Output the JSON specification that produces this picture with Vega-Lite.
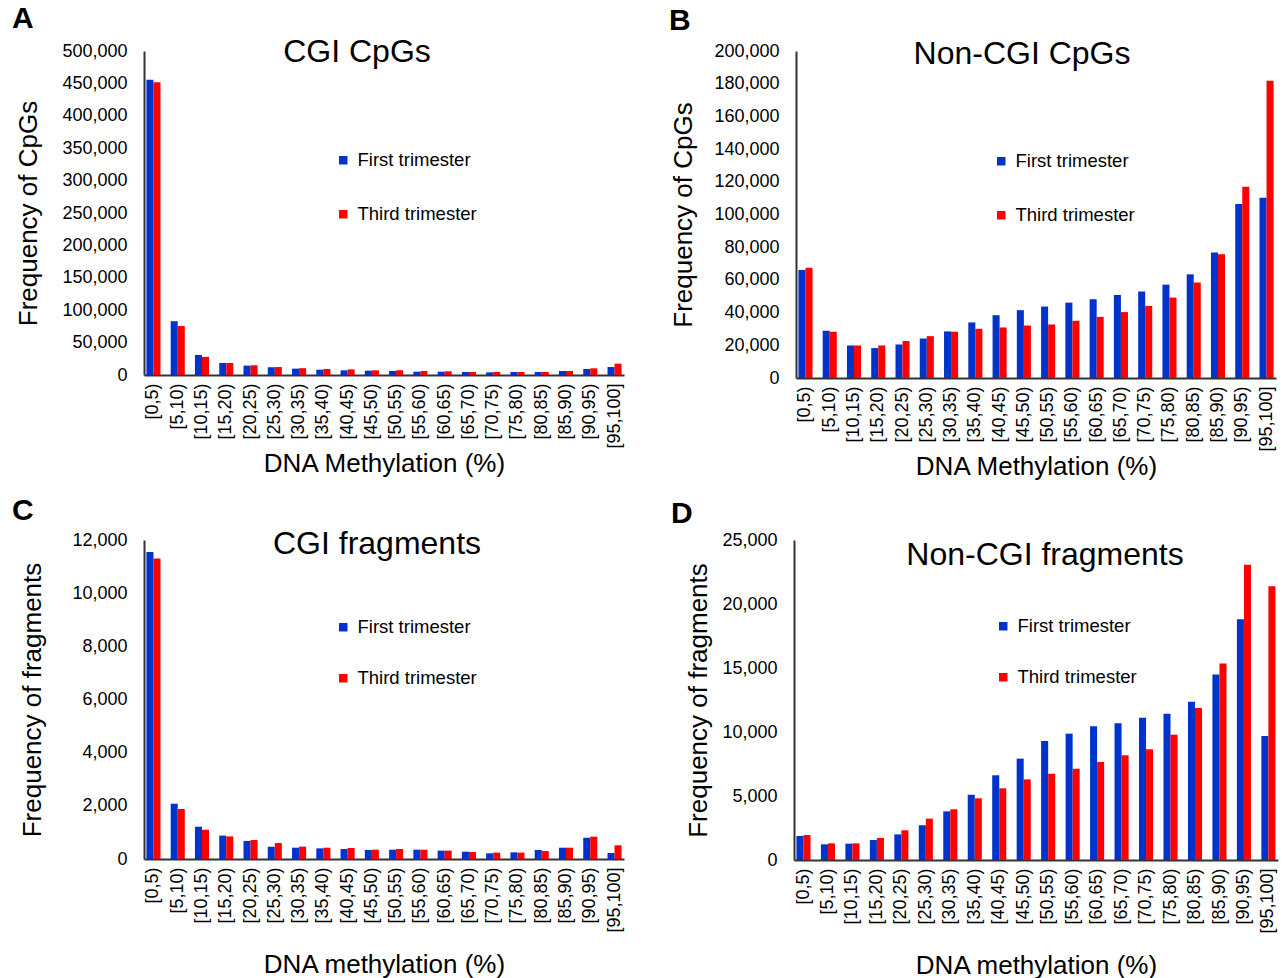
{
  "$schema": "https://vega.github.io/schema/vega-lite/v6.json",
  "background": "white",
  "padding": {"left": 11, "top": 4, "right": 5, "bottom": 0},
  "datasets": {
    "cgiCpG": [
      {"bin": "[0,5)", "trimester": "First trimester", "value": 455500},
      {"bin": "[0,5)", "trimester": "Third trimester", "value": 451600},
      {"bin": "[5,10)", "trimester": "First trimester", "value": 83000},
      {"bin": "[5,10)", "trimester": "Third trimester", "value": 75600},
      {"bin": "[10,15)", "trimester": "First trimester", "value": 31000},
      {"bin": "[10,15)", "trimester": "Third trimester", "value": 28000},
      {"bin": "[15,20)", "trimester": "First trimester", "value": 18500},
      {"bin": "[15,20)", "trimester": "Third trimester", "value": 18500},
      {"bin": "[20,25)", "trimester": "First trimester", "value": 14500},
      {"bin": "[20,25)", "trimester": "Third trimester", "value": 15000},
      {"bin": "[25,30)", "trimester": "First trimester", "value": 12000},
      {"bin": "[25,30)", "trimester": "Third trimester", "value": 12300},
      {"bin": "[30,35)", "trimester": "First trimester", "value": 9800},
      {"bin": "[30,35)", "trimester": "Third trimester", "value": 10500},
      {"bin": "[35,40)", "trimester": "First trimester", "value": 8200},
      {"bin": "[35,40)", "trimester": "Third trimester", "value": 9300},
      {"bin": "[40,45)", "trimester": "First trimester", "value": 7200},
      {"bin": "[40,45)", "trimester": "Third trimester", "value": 8700},
      {"bin": "[45,50)", "trimester": "First trimester", "value": 6700},
      {"bin": "[45,50)", "trimester": "Third trimester", "value": 7200},
      {"bin": "[50,55)", "trimester": "First trimester", "value": 6200},
      {"bin": "[50,55)", "trimester": "Third trimester", "value": 7200},
      {"bin": "[55,60)", "trimester": "First trimester", "value": 5100},
      {"bin": "[55,60)", "trimester": "Third trimester", "value": 6200},
      {"bin": "[60,65)", "trimester": "First trimester", "value": 5100},
      {"bin": "[60,65)", "trimester": "Third trimester", "value": 5700},
      {"bin": "[65,70)", "trimester": "First trimester", "value": 4600},
      {"bin": "[65,70)", "trimester": "Third trimester", "value": 4600},
      {"bin": "[70,75)", "trimester": "First trimester", "value": 4100},
      {"bin": "[70,75)", "trimester": "Third trimester", "value": 4600},
      {"bin": "[75,80)", "trimester": "First trimester", "value": 4600},
      {"bin": "[75,80)", "trimester": "Third trimester", "value": 4600},
      {"bin": "[80,85)", "trimester": "First trimester", "value": 4600},
      {"bin": "[80,85)", "trimester": "Third trimester", "value": 4600},
      {"bin": "[85,90)", "trimester": "First trimester", "value": 6200},
      {"bin": "[85,90)", "trimester": "Third trimester", "value": 6200},
      {"bin": "[90,95)", "trimester": "First trimester", "value": 9300},
      {"bin": "[90,95)", "trimester": "Third trimester", "value": 10300},
      {"bin": "[95,100]", "trimester": "First trimester", "value": 12300},
      {"bin": "[95,100]", "trimester": "Third trimester", "value": 17500}
    ],
    "nonCgiCpG": [
      {"bin": "[0,5)", "trimester": "First trimester", "value": 66100},
      {"bin": "[0,5)", "trimester": "Third trimester", "value": 67500},
      {"bin": "[5,10)", "trimester": "First trimester", "value": 28900},
      {"bin": "[5,10)", "trimester": "Third trimester", "value": 28300},
      {"bin": "[10,15)", "trimester": "First trimester", "value": 19900},
      {"bin": "[10,15)", "trimester": "Third trimester", "value": 19900},
      {"bin": "[15,20)", "trimester": "First trimester", "value": 18300},
      {"bin": "[15,20)", "trimester": "Third trimester", "value": 19900},
      {"bin": "[20,25)", "trimester": "First trimester", "value": 20500},
      {"bin": "[20,25)", "trimester": "Third trimester", "value": 22600},
      {"bin": "[25,30)", "trimester": "First trimester", "value": 24200},
      {"bin": "[25,30)", "trimester": "Third trimester", "value": 25600},
      {"bin": "[30,35)", "trimester": "First trimester", "value": 28500},
      {"bin": "[30,35)", "trimester": "Third trimester", "value": 28300},
      {"bin": "[35,40)", "trimester": "First trimester", "value": 34000},
      {"bin": "[35,40)", "trimester": "Third trimester", "value": 30100},
      {"bin": "[40,45)", "trimester": "First trimester", "value": 38400},
      {"bin": "[40,45)", "trimester": "Third trimester", "value": 30900},
      {"bin": "[45,50)", "trimester": "First trimester", "value": 41500},
      {"bin": "[45,50)", "trimester": "Third trimester", "value": 32100},
      {"bin": "[50,55)", "trimester": "First trimester", "value": 43700},
      {"bin": "[50,55)", "trimester": "Third trimester", "value": 32700},
      {"bin": "[55,60)", "trimester": "First trimester", "value": 46100},
      {"bin": "[55,60)", "trimester": "Third trimester", "value": 35000},
      {"bin": "[60,65)", "trimester": "First trimester", "value": 48200},
      {"bin": "[60,65)", "trimester": "Third trimester", "value": 37400},
      {"bin": "[65,70)", "trimester": "First trimester", "value": 50800},
      {"bin": "[65,70)", "trimester": "Third trimester", "value": 40300},
      {"bin": "[70,75)", "trimester": "First trimester", "value": 52900},
      {"bin": "[70,75)", "trimester": "Third trimester", "value": 44100},
      {"bin": "[75,80)", "trimester": "First trimester", "value": 57100},
      {"bin": "[75,80)", "trimester": "Third trimester", "value": 49200},
      {"bin": "[80,85)", "trimester": "First trimester", "value": 63400},
      {"bin": "[80,85)", "trimester": "Third trimester", "value": 58400},
      {"bin": "[85,90)", "trimester": "First trimester", "value": 76700},
      {"bin": "[85,90)", "trimester": "Third trimester", "value": 75700},
      {"bin": "[90,95)", "trimester": "First trimester", "value": 106400},
      {"bin": "[90,95)", "trimester": "Third trimester", "value": 116900},
      {"bin": "[95,100]", "trimester": "First trimester", "value": 110200},
      {"bin": "[95,100]", "trimester": "Third trimester", "value": 181800}
    ],
    "cgiFrag": [
      {"bin": "[0,5)", "trimester": "First trimester", "value": 11550},
      {"bin": "[0,5)", "trimester": "Third trimester", "value": 11300},
      {"bin": "[5,10)", "trimester": "First trimester", "value": 2080},
      {"bin": "[5,10)", "trimester": "Third trimester", "value": 1880},
      {"bin": "[10,15)", "trimester": "First trimester", "value": 1215},
      {"bin": "[10,15)", "trimester": "Third trimester", "value": 1100},
      {"bin": "[15,20)", "trimester": "First trimester", "value": 880},
      {"bin": "[15,20)", "trimester": "Third trimester", "value": 850},
      {"bin": "[20,25)", "trimester": "First trimester", "value": 680},
      {"bin": "[20,25)", "trimester": "Third trimester", "value": 715},
      {"bin": "[25,30)", "trimester": "First trimester", "value": 465},
      {"bin": "[25,30)", "trimester": "Third trimester", "value": 600},
      {"bin": "[30,35)", "trimester": "First trimester", "value": 425},
      {"bin": "[30,35)", "trimester": "Third trimester", "value": 465},
      {"bin": "[35,40)", "trimester": "First trimester", "value": 400},
      {"bin": "[35,40)", "trimester": "Third trimester", "value": 425},
      {"bin": "[40,45)", "trimester": "First trimester", "value": 375},
      {"bin": "[40,45)", "trimester": "Third trimester", "value": 415},
      {"bin": "[45,50)", "trimester": "First trimester", "value": 340},
      {"bin": "[45,50)", "trimester": "Third trimester", "value": 350},
      {"bin": "[50,55)", "trimester": "First trimester", "value": 350},
      {"bin": "[50,55)", "trimester": "Third trimester", "value": 375},
      {"bin": "[55,60)", "trimester": "First trimester", "value": 350},
      {"bin": "[55,60)", "trimester": "Third trimester", "value": 350},
      {"bin": "[60,65)", "trimester": "First trimester", "value": 315},
      {"bin": "[60,65)", "trimester": "Third trimester", "value": 315},
      {"bin": "[65,70)", "trimester": "First trimester", "value": 275},
      {"bin": "[65,70)", "trimester": "Third trimester", "value": 265},
      {"bin": "[70,75)", "trimester": "First trimester", "value": 213},
      {"bin": "[70,75)", "trimester": "Third trimester", "value": 240},
      {"bin": "[75,80)", "trimester": "First trimester", "value": 250},
      {"bin": "[75,80)", "trimester": "Third trimester", "value": 240},
      {"bin": "[80,85)", "trimester": "First trimester", "value": 340},
      {"bin": "[80,85)", "trimester": "Third trimester", "value": 300},
      {"bin": "[85,90)", "trimester": "First trimester", "value": 425},
      {"bin": "[85,90)", "trimester": "Third trimester", "value": 425},
      {"bin": "[90,95)", "trimester": "First trimester", "value": 800},
      {"bin": "[90,95)", "trimester": "Third trimester", "value": 840},
      {"bin": "[95,100]", "trimester": "First trimester", "value": 225},
      {"bin": "[95,100]", "trimester": "Third trimester", "value": 515}
    ],
    "nonCgiFrag": [
      {"bin": "[0,5)", "trimester": "First trimester", "value": 1875},
      {"bin": "[0,5)", "trimester": "Third trimester", "value": 1950},
      {"bin": "[5,10)", "trimester": "First trimester", "value": 1225},
      {"bin": "[5,10)", "trimester": "Third trimester", "value": 1300},
      {"bin": "[10,15)", "trimester": "First trimester", "value": 1275},
      {"bin": "[10,15)", "trimester": "Third trimester", "value": 1300},
      {"bin": "[15,20)", "trimester": "First trimester", "value": 1560},
      {"bin": "[15,20)", "trimester": "Third trimester", "value": 1720},
      {"bin": "[20,25)", "trimester": "First trimester", "value": 2000},
      {"bin": "[20,25)", "trimester": "Third trimester", "value": 2320},
      {"bin": "[25,30)", "trimester": "First trimester", "value": 2710},
      {"bin": "[25,30)", "trimester": "Third trimester", "value": 3230},
      {"bin": "[30,35)", "trimester": "First trimester", "value": 3800},
      {"bin": "[30,35)", "trimester": "Third trimester", "value": 3960},
      {"bin": "[35,40)", "trimester": "First trimester", "value": 5100},
      {"bin": "[35,40)", "trimester": "Third trimester", "value": 4820},
      {"bin": "[40,45)", "trimester": "First trimester", "value": 6620},
      {"bin": "[40,45)", "trimester": "Third trimester", "value": 5600},
      {"bin": "[45,50)", "trimester": "First trimester", "value": 7920},
      {"bin": "[45,50)", "trimester": "Third trimester", "value": 6300},
      {"bin": "[50,55)", "trimester": "First trimester", "value": 9300},
      {"bin": "[50,55)", "trimester": "Third trimester", "value": 6740},
      {"bin": "[55,60)", "trimester": "First trimester", "value": 9870},
      {"bin": "[55,60)", "trimester": "Third trimester", "value": 7130},
      {"bin": "[60,65)", "trimester": "First trimester", "value": 10440},
      {"bin": "[60,65)", "trimester": "Third trimester", "value": 7660},
      {"bin": "[65,70)", "trimester": "First trimester", "value": 10680},
      {"bin": "[65,70)", "trimester": "Third trimester", "value": 8180},
      {"bin": "[70,75)", "trimester": "First trimester", "value": 11120},
      {"bin": "[70,75)", "trimester": "Third trimester", "value": 8650},
      {"bin": "[75,80)", "trimester": "First trimester", "value": 11430},
      {"bin": "[75,80)", "trimester": "Third trimester", "value": 9790},
      {"bin": "[80,85)", "trimester": "First trimester", "value": 12370},
      {"bin": "[80,85)", "trimester": "Third trimester", "value": 11880},
      {"bin": "[85,90)", "trimester": "First trimester", "value": 14500},
      {"bin": "[85,90)", "trimester": "Third trimester", "value": 15360},
      {"bin": "[90,95)", "trimester": "First trimester", "value": 18800},
      {"bin": "[90,95)", "trimester": "Third trimester", "value": 23070},
      {"bin": "[95,100]", "trimester": "First trimester", "value": 9690},
      {"bin": "[95,100]", "trimester": "Third trimester", "value": 21380}
    ]
  },
  "resolve": {"scale": {"color": "independent"}, "legend": {"color": "independent"}},
  "vconcat": [
    {
      "resolve": {"scale": {"color": "independent"}, "legend": {"color": "independent"}},
      "hconcat": [
        {
          "title": {"text": "A", "anchor": "start", "fontSize": 30, "fontWeight": "bold", "dx": -4, "offset": 2},
          "resolve": {"scale": {"color": "independent"}, "legend": {"color": "independent"}},
          "vconcat": [
            {
              "data": {"name": "cgiCpG"},
              "width": 480,
              "height": 324,
              "title": {"text": "CGI CpGs", "fontSize": 32, "fontWeight": "normal", "baseline": "alphabetic", "offset": -52, "dx": -27},
              "mark": {"type": "bar"},
              "encoding": {
                "x": {"field": "bin", "type": "nominal", "sort": null, "title": "DNA Methylation (%)",
                      "scale": {"paddingInner": 0.42, "paddingOuter": 0.1},
                      "axis": {"labelAngle": -90, "labelPadding": 8, "titlePadding": 2}},
                "xOffset": {"field": "trimester", "type": "nominal", "sort": ["First trimester", "Third trimester"]},
                "y": {"field": "value", "type": "quantitative", "title": "Frequency of CpGs",
                      "scale": {"domain": [0, 500000], "nice": false},
                      "axis": {"values": [0, 50000, 100000, 150000, 200000, 250000, 300000, 350000, 400000, 450000, 500000], "format": ",d", "labelPadding": 17, "titlePadding": 20}},
                "color": {"field": "trimester", "type": "nominal",
                          "scale": {"domain": ["First trimester", "Third trimester"], "range": ["#0033CC", "#FF0000"]},
                          "legend": {"title": null, "orient": "none", "legendX": 190, "legendY": 100, "rowPadding": 35}}
              }
            }
          ]
        },
        {
          "title": {"text": "B", "anchor": "start", "fontSize": 30, "fontWeight": "bold", "dx": -2, "offset": 2},
          "resolve": {"scale": {"color": "independent"}, "legend": {"color": "independent"}},
          "vconcat": [
            {
              "data": {"name": "nonCgiCpG"},
              "width": 480,
              "height": 327,
              "title": {"text": "Non-CGI CpGs", "fontSize": 32, "fontWeight": "normal", "baseline": "alphabetic", "offset": -54, "dx": -14},
              "mark": {"type": "bar"},
              "encoding": {
                "x": {"field": "bin", "type": "nominal", "sort": null, "title": "DNA Methylation (%)",
                      "scale": {"paddingInner": 0.42, "paddingOuter": 0.1},
                      "axis": {"labelAngle": -90, "labelPadding": 8, "titlePadding": 2}},
                "xOffset": {"field": "trimester", "type": "nominal", "sort": ["First trimester", "Third trimester"]},
                "y": {"field": "value", "type": "quantitative", "title": "Frequency of CpGs",
                      "scale": {"domain": [0, 200000], "nice": false},
                      "axis": {"values": [0, 20000, 40000, 60000, 80000, 100000, 120000, 140000, 160000, 180000, 200000], "format": ",d", "labelPadding": 17, "titlePadding": 17}},
                "color": {"field": "trimester", "type": "nominal",
                          "scale": {"domain": ["First trimester", "Third trimester"], "range": ["#0033CC", "#FF0000"]},
                          "legend": {"title": null, "orient": "none", "legendX": 196, "legendY": 101, "rowPadding": 35}}
              }
            }
          ]
        }
      ],
      "spacing": 44
    },
    {
      "resolve": {"scale": {"color": "independent"}, "legend": {"color": "independent"}},
      "hconcat": [
        {
          "title": {"text": "C", "anchor": "start", "fontSize": 30, "fontWeight": "bold", "dx": -8, "offset": 2},
          "resolve": {"scale": {"color": "independent"}, "legend": {"color": "independent"}},
          "vconcat": [
            {
              "data": {"name": "cgiFrag"},
              "width": 480,
              "height": 319,
              "title": {"text": "CGI fragments", "fontSize": 32, "fontWeight": "normal", "baseline": "alphabetic", "offset": -55, "dx": -7},
              "mark": {"type": "bar"},
              "encoding": {
                "x": {"field": "bin", "type": "nominal", "sort": null, "title": "DNA methylation (%)",
                      "scale": {"paddingInner": 0.42, "paddingOuter": 0.1},
                      "axis": {"labelAngle": -90, "labelPadding": 8, "titlePadding": 19}},
                "xOffset": {"field": "trimester", "type": "nominal", "sort": ["First trimester", "Third trimester"]},
                "y": {"field": "value", "type": "quantitative", "title": "Frequency of fragments",
                      "scale": {"domain": [0, 12000], "nice": false},
                      "axis": {"values": [0, 2000, 4000, 6000, 8000, 10000, 12000], "format": ",d", "labelPadding": 17, "titlePadding": 26}},
                "color": {"field": "trimester", "type": "nominal",
                          "scale": {"domain": ["First trimester", "Third trimester"], "range": ["#0033CC", "#FF0000"]},
                          "legend": {"title": null, "orient": "none", "legendX": 190, "legendY": 78, "rowPadding": 32}}
              }
            }
          ]
        },
        {
          "title": {"text": "D", "anchor": "start", "fontSize": 30, "fontWeight": "bold", "dx": -15, "offset": 2},
          "resolve": {"scale": {"color": "independent"}, "legend": {"color": "independent"}},
          "vconcat": [
            {
              "data": {"name": "nonCgiFrag"},
              "width": 484,
              "height": 320,
              "title": {"text": "Non-CGI fragments", "fontSize": 32, "fontWeight": "normal", "baseline": "alphabetic", "offset": -66, "dx": 9},
              "mark": {"type": "bar"},
              "encoding": {
                "x": {"field": "bin", "type": "nominal", "sort": null, "title": "DNA methylation (%)",
                      "scale": {"paddingInner": 0.42, "paddingOuter": 0.1},
                      "axis": {"labelAngle": -90, "labelPadding": 8, "titlePadding": 19}},
                "xOffset": {"field": "trimester", "type": "nominal", "sort": ["First trimester", "Third trimester"]},
                "y": {"field": "value", "type": "quantitative", "title": "Frequency of fragments",
                      "scale": {"domain": [0, 25000], "nice": false},
                      "axis": {"values": [0, 5000, 10000, 15000, 20000, 25000], "format": ",d", "labelPadding": 17, "titlePadding": 10}},
                "color": {"field": "trimester", "type": "nominal",
                          "scale": {"domain": ["First trimester", "Third trimester"], "range": ["#0033CC", "#FF0000"]},
                          "legend": {"title": null, "orient": "none", "legendX": 200, "legendY": 77, "rowPadding": 32}}
              }
            }
          ]
        }
      ],
      "spacing": 46
    }
  ],
  "spacing": 16,
  "config": {
    "font": "Liberation Sans",
    "view": {"stroke": null},
    "axis": {
      "labelFont": "Liberation Sans", "titleFont": "Liberation Sans",
      "labelColor": "#000", "titleColor": "#000",
      "labelFontSize": 18, "titleFontSize": 26, "titleFontWeight": "normal",
      "ticks": false, "grid": false,
      "domainColor": "#333", "domainWidth": 2
    },
    "legend": {
      "labelFont": "Liberation Sans", "labelFontSize": 18.5, "labelColor": "#000",
      "symbolType": "square", "symbolSize": 72, "symbolStrokeWidth": 0, "labelOffset": 5
    },
    "title": {"font": "Liberation Sans", "color": "#000"}
  }
}
